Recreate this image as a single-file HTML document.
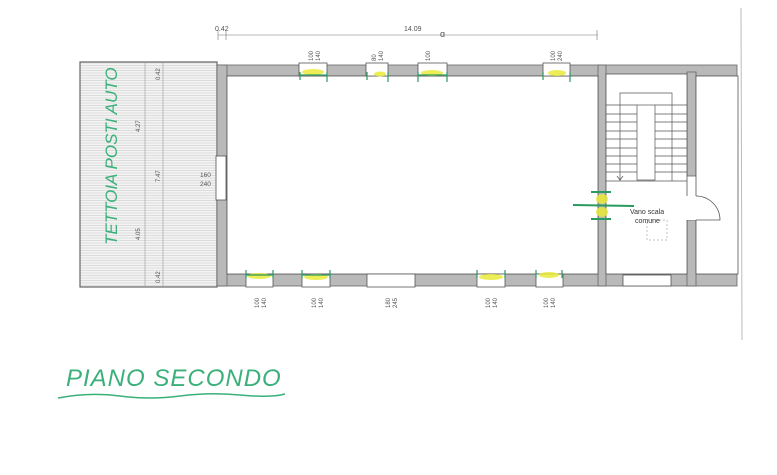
<!DOCTYPE html>
<html><head><meta charset="utf-8"><style>
html,body{margin:0;padding:0;background:#fff;width:777px;height:475px;overflow:hidden}
svg{display:block}
text{font-family:"Liberation Sans",sans-serif;fill:#555}
</style></head><body>
<svg width="777" height="475" viewBox="0 0 777 475" xmlns="http://www.w3.org/2000/svg">
<defs>
<pattern id="h" width="4" height="2.5" patternUnits="userSpaceOnUse"><rect width="4" height="2.5" fill="#f4f4f4"/><line x1="0" y1="0.5" x2="4" y2="0.5" stroke="#ccc" stroke-width="0.6"/></pattern>
</defs>
<!-- page edge line -->
<line x1="741" y1="8" x2="742" y2="340" stroke="#bbb" stroke-width="1"/>
<!-- top dimension -->
<line x1="218" y1="35" x2="598" y2="35" stroke="#777" stroke-width="0.6"/>
<line x1="218" y1="30" x2="218" y2="40" stroke="#777" stroke-width="0.6"/>
<line x1="226" y1="30" x2="226" y2="40" stroke="#777" stroke-width="0.6"/>
<line x1="597" y1="30" x2="597" y2="40" stroke="#777" stroke-width="0.6"/>
<text x="215" y="31" font-size="7">0.42</text>
<text x="404" y="31" font-size="7">14.09</text>
<text x="440" y="37" font-size="9">ɑ</text>
<!-- tettoia -->
<rect x="80" y="62" width="137" height="225" fill="url(#h)" stroke="#666" stroke-width="1.2"/>
<line x1="145" y1="63" x2="145" y2="286" stroke="#999" stroke-width="0.6"/>
<line x1="163" y1="63" x2="163" y2="286" stroke="#999" stroke-width="0.6"/>
<text transform="translate(160,80) rotate(-90)" font-size="6">0.42</text>
<text transform="translate(140,132) rotate(-90)" font-size="6">4.27</text>
<text transform="translate(160,182) rotate(-90)" font-size="6">7.47</text>
<text transform="translate(140,240) rotate(-90)" font-size="6">4.05</text>
<text transform="translate(160,283) rotate(-90)" font-size="6">0.42</text>
<text transform="translate(117,245) rotate(-90)" font-size="17" style="fill:#3bb07a;font-style:italic">TETTOIA POSTI AUTO</text>
<!-- walls -->
<g fill="#b9b9b9" stroke="#666" stroke-width="0.8">
<rect x="217" y="65" width="520" height="11"/>
<rect x="217" y="274" width="520" height="12"/>
<rect x="217" y="65" width="10" height="221"/>
<rect x="598" y="65" width="8" height="221"/>
<rect x="687" y="72" width="9" height="104"/>
<rect x="687" y="220" width="9" height="66"/>
</g>
<rect x="227" y="76" width="371" height="198" fill="#fff" stroke="#555" stroke-width="0.8"/>
<rect x="606" y="74" width="81" height="200" fill="#fff" stroke="#555" stroke-width="0.8"/>
<rect x="696" y="76" width="42" height="198" fill="#fff" stroke="#555" stroke-width="0.8"/>
<!-- windows top -->
<g fill="#fff" stroke="#555" stroke-width="0.8">
<rect x="299" y="63" width="28" height="13"/>
<rect x="366" y="63" width="22" height="13"/>
<rect x="418" y="63" width="29" height="13"/>
<rect x="543" y="63" width="27" height="13"/>
<rect x="246" y="274" width="27" height="13"/>
<rect x="302" y="274" width="28" height="13"/>
<rect x="367" y="274" width="48" height="13"/>
<rect x="477" y="274" width="28" height="13"/>
<rect x="536" y="274" width="27" height="13"/>
<rect x="623" y="275" width="48" height="11"/>
<rect x="216" y="156" width="10" height="44"/>
<rect x="686" y="196" width="11" height="24" stroke="none"/>
</g>
<path d="M696 196 A24 24 0 0 1 720 220 L696 220" fill="none" stroke="#555" stroke-width="0.8"/>
<!-- yellow/green marks -->
<g fill="#eaea3a" opacity="0.85">
<ellipse cx="313" cy="72" rx="11" ry="3"/><ellipse cx="380" cy="74" rx="6" ry="2.5"/>
<ellipse cx="432" cy="73" rx="11" ry="3"/><ellipse cx="557" cy="73" rx="9" ry="3"/>
<ellipse cx="259" cy="276" rx="12" ry="3"/><ellipse cx="316" cy="277" rx="12" ry="3"/>
<ellipse cx="491" cy="277" rx="12" ry="3"/><ellipse cx="549" cy="275" rx="10" ry="3"/>
<ellipse cx="602" cy="199" rx="6" ry="5"/><ellipse cx="602" cy="212" rx="6" ry="5"/>
</g>
<g stroke="#2a9a60" stroke-width="1.2">
<line x1="300" y1="75" x2="327" y2="75"/><line x1="300" y1="72" x2="300" y2="80"/><line x1="327" y1="72" x2="327" y2="82"/>
<line x1="418" y1="75" x2="447" y2="75"/><line x1="418" y1="72" x2="418" y2="82"/><line x1="447" y1="72" x2="447" y2="82"/>
<line x1="367" y1="72" x2="367" y2="80"/><line x1="388" y1="72" x2="388" y2="82"/><line x1="543" y1="72" x2="543" y2="80"/><line x1="570" y1="72" x2="570" y2="82"/>
<line x1="246" y1="275" x2="273" y2="275"/><line x1="246" y1="270" x2="246" y2="278"/><line x1="273" y1="270" x2="273" y2="278"/>
<line x1="302" y1="275" x2="330" y2="275"/><line x1="302" y1="270" x2="302" y2="278"/><line x1="330" y1="270" x2="330" y2="278"/>
<line x1="477" y1="270" x2="477" y2="278"/><line x1="505" y1="270" x2="505" y2="278"/><line x1="536" y1="270" x2="536" y2="278"/><line x1="562" y1="270" x2="562" y2="278"/>
<line x1="573" y1="205" x2="634" y2="206" stroke-width="2"/><line x1="591" y1="192" x2="611" y2="192" stroke-width="2"/><line x1="591" y1="219" x2="611" y2="219" stroke-width="2"/>
</g>
<!-- window labels -->
<g font-size="6">
<text transform="translate(313,61) rotate(-90)">100</text><text transform="translate(320,61) rotate(-90)">140</text>
<text transform="translate(376,61) rotate(-90)">80</text><text transform="translate(383,61) rotate(-90)">140</text>
<text transform="translate(430,61) rotate(-90)">100</text>
<text transform="translate(555,61) rotate(-90)">100</text><text transform="translate(562,61) rotate(-90)">240</text>
<text transform="translate(259,308) rotate(-90)">100</text><text transform="translate(266,308) rotate(-90)">140</text>
<text transform="translate(316,308) rotate(-90)">100</text><text transform="translate(323,308) rotate(-90)">140</text>
<text transform="translate(390,308) rotate(-90)">180</text><text transform="translate(397,308) rotate(-90)">245</text>
<text transform="translate(490,308) rotate(-90)">100</text><text transform="translate(497,308) rotate(-90)">140</text>
<text transform="translate(548,308) rotate(-90)">100</text><text transform="translate(555,308) rotate(-90)">140</text>
<text x="200" y="177" font-size="6.5">160</text><text x="200" y="186" font-size="6.5">240</text>
</g>
<!-- stairs -->
<g fill="none" stroke="#555" stroke-width="0.7">
<polyline points="620,181 620,93 672,93 672,181"/>
<rect x="637" y="105" width="18" height="75" fill="#fff"/>
<line x1="606" y1="105" x2="637" y2="105"/><line x1="655" y1="105" x2="687" y2="105"/>
<line x1="606" y1="114" x2="637" y2="114"/><line x1="655" y1="114" x2="687" y2="114"/>
<line x1="606" y1="122" x2="637" y2="122"/><line x1="655" y1="122" x2="687" y2="122"/>
<line x1="606" y1="131" x2="637" y2="131"/><line x1="655" y1="131" x2="687" y2="131"/>
<line x1="606" y1="139" x2="637" y2="139"/><line x1="655" y1="139" x2="687" y2="139"/>
<line x1="606" y1="148" x2="637" y2="148"/><line x1="655" y1="148" x2="687" y2="148"/>
<line x1="606" y1="156" x2="637" y2="156"/><line x1="655" y1="156" x2="687" y2="156"/>
<line x1="606" y1="164" x2="637" y2="164"/><line x1="655" y1="164" x2="687" y2="164"/>
<line x1="606" y1="172" x2="637" y2="172"/><line x1="655" y1="172" x2="687" y2="172"/>
<line x1="606" y1="181" x2="687" y2="181"/>
<polyline points="617,176 620,180 623,176"/>
<rect x="647" y="220" width="20" height="20" stroke-dasharray="2,2" stroke="#aaa"/>
</g>
<text x="630" y="214" font-size="7" style="fill:#333">Vano scala</text>
<text x="635" y="223" font-size="7" style="fill:#333">comune</text>
<!-- handwritten title -->
<text x="66" y="386" font-size="24" style="fill:#3bb07a;font-style:italic;letter-spacing:1px">PIANO SECONDO</text>
<path d="M58 398 Q90 392 120 396 T180 396 T240 395 T285 394" fill="none" stroke="#3bb07a" stroke-width="1.5"/>
</svg>
</body></html>
